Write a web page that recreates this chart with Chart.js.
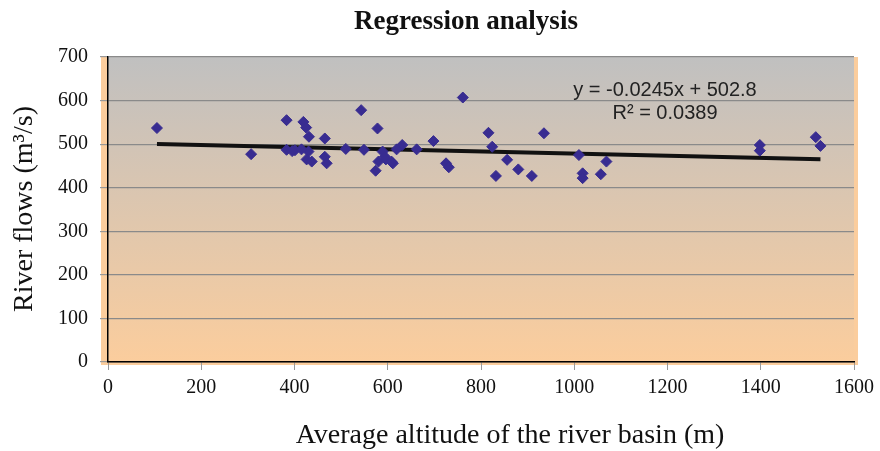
<!DOCTYPE html>
<html>
<head>
<meta charset="utf-8">
<script src="https://cdn.jsdelivr.net/npm/chart.js@4/dist/chart.umd.min.js"></script>
<style>
  html, body { margin: 0; padding: 0; background: #fff; }
  #wrap { width: 880px; height: 451px; }
</style>
</head>
<body>
<div id="wrap"><canvas id="myChart" width="880" height="451"></canvas></div>
<script>
// Average altitude of the basin (m) and river flow (m3/s)
const altitude = [105, 307, 383, 419, 425, 431, 465, 543, 578, 761,
  698, 631, 619, 662, 510, 549, 589, 383, 430, 465,
  469, 426, 437, 580, 596, 611, 574, 725, 731, 816,
  935, 824, 856, 880, 832, 909, 1010, 1069, 1018, 1018,
  1057, 1398, 1398, 1518, 1528, 401, 415, 395, 594, 608];
const flow = [537, 477, 555, 551, 538, 517, 513, 578, 536, 607,
  507, 498, 488, 488, 489, 487, 483, 487, 483, 471,
  456, 465, 460, 460, 465, 456, 439, 456, 447, 526,
  525, 494, 464, 442, 427, 427, 475, 460, 433, 422,
  431, 498, 485, 516, 496, 486, 488, 484, 471, 460];

// Trend line from the equation shown on the chart
const slope = -0.0245;
const intercept = 502.8;
const trendX = [105, 1528];

const xTicks = [0, 200, 400, 600, 800, 1000, 1200, 1400, 1600];
const yTicks = [0, 100, 200, 300, 400, 500, 600, 700];

const serif = "'Liberation Serif', 'Times New Roman', serif";
const sans = "'Liberation Sans', Arial, sans-serif";

const points = altitude.map((a, i) => ({ x: a, y: flow[i] }));
const trend = trendX.map(x => ({ x: x, y: slope * x + intercept }));

// Gradient plot background + texts
const decorations = {
  id: 'decorations',
  beforeDraw(chart) {
    const { ctx, chartArea: a } = chart;
    ctx.save();
    ctx.fillStyle = '#fbcd9d';
    ctx.fillRect(a.left - 7, a.top, a.right - a.left + 11, a.bottom - a.top + 3);
    const g = ctx.createLinearGradient(0, a.top, 0, a.bottom);
    g.addColorStop(0, '#c0c0c0');
    g.addColorStop(1, '#fbcd9d');
    ctx.fillStyle = g;
    ctx.fillRect(a.left, a.top, a.right - a.left, a.bottom - a.top);
    ctx.restore();
  },
  afterDraw(chart) {
    const { ctx } = chart;
    ctx.save();
    ctx.fillStyle = '#111';
    ctx.textAlign = 'center';
    ctx.textBaseline = 'middle';
    ctx.font = 'bold 27px ' + serif;
    ctx.fillText('Regression analysis', 466, 22);
    ctx.font = '28px ' + serif;
    ctx.fillText('Average altitude of the river basin (m)', 510, 436);
    ctx.translate(25, 209);
    ctx.rotate(-Math.PI / 2);
    ctx.fillText('River flows (m\u00b3/s)', 0, 0);
    ctx.restore();

    ctx.save();
    ctx.fillStyle = '#222';
    ctx.textAlign = 'center';
    ctx.textBaseline = 'middle';
    ctx.font = '20px ' + sans;
    ctx.fillText('y = -0.0245x + 502.8', 665, 90);
    ctx.fillText('R\u00b2 = 0.0389', 665, 113);
    ctx.restore();
  }
};

new Chart(document.getElementById('myChart'), {
  type: 'scatter',
  data: {
    datasets: [
      {
        label: 'Flows',
        data: points,
        pointStyle: 'rectRot',
        pointRadius: 5.5,
        backgroundColor: '#382c91',
        borderColor: '#382c91',
        borderWidth: 1
      },
      {
        label: 'Trend',
        type: 'line',
        data: trend,
        borderColor: '#111',
        borderWidth: 4,
        pointRadius: 0,
        fill: false
      }
    ]
  },
  options: {
    responsive: false,
    animation: false,
    layout: { padding: { top: 57, right: 26, left: 0, bottom: 0 } },
    plugins: {
      legend: { display: false },
      tooltip: { enabled: false }
    },
    scales: {
      x: {
        type: 'linear',
        min: 0,
        max: 1600,
        afterBuildTicks: scale => { scale.ticks = xTicks.map(v => ({ value: v })); },
        afterFit: scale => { scale.height = 89; },
        grid: { drawOnChartArea: false, drawTicks: true, tickLength: 8, tickColor: '#999' },
        border: { color: '#000', width: 1.5 },
        ticks: {
          color: '#111', padding: 6, maxRotation: 0,
          font: { family: serif, size: 20 },
          callback: v => String(v)
        }
      },
      y: {
        min: 0,
        max: 700,
        afterBuildTicks: scale => { scale.ticks = yTicks.map(v => ({ value: v })); },
        afterFit: scale => { scale.width = 108; },
        grid: { color: '#8a8a8a', lineWidth: 1.2, tickLength: 8, tickColor: '#999' },
        border: { color: '#000', width: 1.5 },
        ticks: { color: '#111', padding: 12, font: { family: serif, size: 20 }, callback: v => String(v) }
      }
    }
  },
  plugins: [decorations]
});
</script>
</body>
</html>
